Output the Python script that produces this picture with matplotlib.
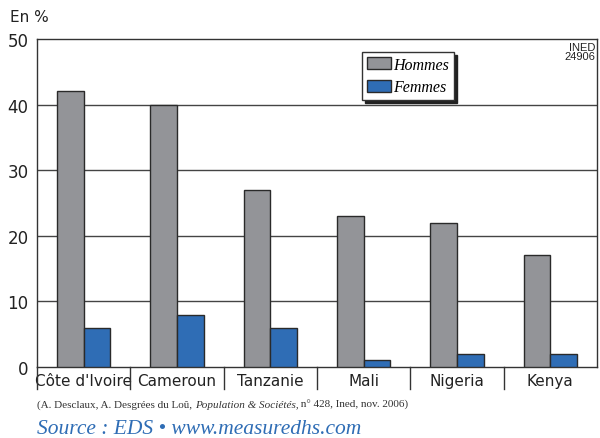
import numpy as np
import matplotlib.pyplot as plt
from matplotlib.transforms import blended_transform_factory

countries = ["Côte d'Ivoire", "Cameroun", "Tanzanie", "Mali", "Nigeria", "Kenya"]
hommes = [42, 40, 27, 23, 22, 17]
femmes = [6, 8, 6, 1, 2, 2]
yticks = [0, 10, 20, 30, 40, 50]

gray = "#939498"
blue = "#2f6db5"
edge = "#2a2a2a"

fig = plt.figure(figsize=(6, 4.39), dpi=100)
ax = fig.add_axes([37/600, 1 - 368/439, 560/600, 328/439])

x = np.arange(len(countries))
w = 0.285
ax.bar(x - w/2, hommes, w, color=gray, edgecolor=edge, linewidth=1, label="Hommes", zorder=3)
ax.bar(x + w/2, femmes, w, color=blue, edgecolor=edge, linewidth=1, label="Femmes", zorder=3)

ax.set_xlim(-0.5, len(countries) - 0.5)
ax.set_ylim(0, 50)
ax.set_yticks(yticks)
ax.set_yticklabels([str(v) for v in yticks], fontsize=12, color="#222222")
ax.tick_params(axis="y", length=0, pad=6)

# gridlines
for v in yticks[1:-1]:
    ax.axhline(v, color="#444444", linewidth=1, zorder=1)

for s in ["top", "right", "left", "bottom"]:
    ax.spines[s].set_color("#333333")
    ax.spines[s].set_linewidth(1)

# category labels row below the plot
ax.set_xticks(x)
ax.set_xticklabels(countries, fontsize=11, color="#222222")
ax.tick_params(axis="x", length=0, pad=4)

trans = blended_transform_factory(ax.transData, ax.transAxes)
for b in np.arange(len(countries)) - 0.5:
    ax.plot([b, b], [0, -0.068], transform=trans, color="#333333", linewidth=1, clip_on=False)

leg = ax.legend(loc="upper left", bbox_to_anchor=(325/560, 1 - 13/328), frameon=True,
                fancybox=False, shadow={"color": "#222222", "alpha": 1}, edgecolor="#333333",
                prop={"family": "Liberation Serif", "style": "italic", "size": 11.5},
                handlelength=1.5, handleheight=0.8, handletextpad=0.15, borderpad=0.3,
                labelspacing=0.4, borderaxespad=0)
for h in leg.legend_handles:
    h.set_edgecolor(edge)

ax.text(0.997, 0.99, "INED\n24906", transform=ax.transAxes, ha="right", va="top",
        fontsize=8, family="Liberation Sans", color="#222222", linespacing=0.9)

fig.text(10/600, 1 - 18/439, "En %", fontsize=11, va="center", ha="left", color="#222222")

# caption in three pieces (middle one italic)
cap_kw = dict(fontsize=8, family="Liberation Serif", color="#333333", va="baseline", ha="left")
t1 = fig.text(37/600, 1 - 408/439, "(A. Desclaux, A. Desgrées du Loû, ", **cap_kw)
t2 = fig.text(0, 0, "Population & Sociétés,", style="italic", **cap_kw)
t3 = fig.text(0, 0, " n° 428, Ined, nov. 2006)", **cap_kw)
fig.canvas.draw()
r = fig.canvas.get_renderer()
bb1 = t1.get_window_extent(r)
t2.set_position((bb1.x1 / fig.bbox.width, 1 - 408/439))
fig.canvas.draw()
bb2 = t2.get_window_extent(r)
t3.set_position((bb2.x1 / fig.bbox.width, 1 - 408/439))

fig.text(37/600, 1 - 430/439, "Source : EDS • www.measuredhs.com", fontsize=15.5,
         family="Liberation Serif", style="italic", va="center", ha="left", color=blue)

fig.savefig("out.png", dpi=100)
